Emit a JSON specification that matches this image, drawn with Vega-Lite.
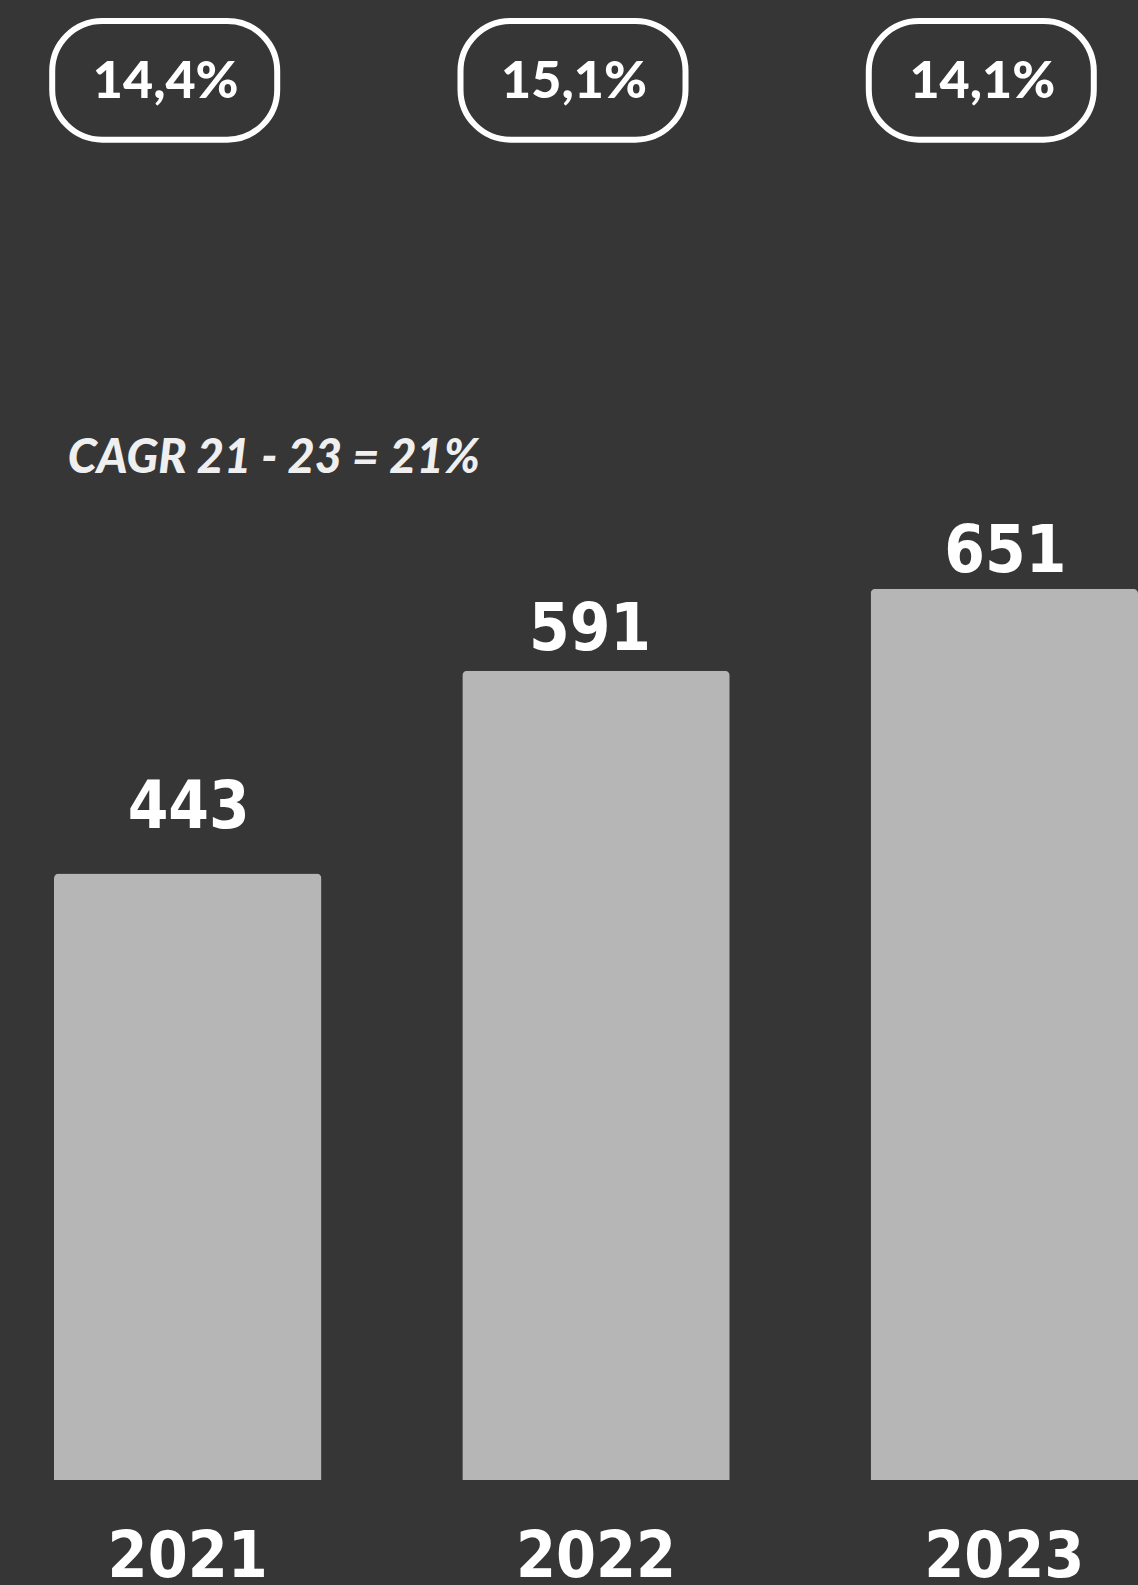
{
  "$schema": "https://vega.github.io/schema/vega-lite/v6.json",
  "width": 1084,
  "height": 1480,
  "autosize": {"type": "none"},
  "padding": {"left": 54, "top": 0, "right": 0, "bottom": 105},
  "background": "#363636",
  "config": {"view": {"stroke": null}},
  "data": {
    "values": [
      {"year": "2021", "value": 443, "margin": "14,4%"},
      {"year": "2022", "value": 591, "margin": "15,1%"},
      {"year": "2023", "value": 651, "margin": "14,1%"}
    ]
  },
  "encoding": {
    "x": {
      "field": "year",
      "type": "ordinal",
      "scale": {"paddingInner": 0.345, "paddingOuter": 0},
      "axis": {
        "title": null,
        "labelAngle": 0,
        "domain": false,
        "ticks": false,
        "grid": false,
        "labelFont": "DejaVu Sans Condensed, DejaVu Sans",
        "labelFontWeight": "bold",
        "labelFontSize": 64,
        "labelColor": "#ffffff",
        "labelBaseline": "alphabetic",
        "labelPadding": 96
      }
    }
  },
  "layer": [
    {
      "mark": {"type": "bar", "color": "#b6b6b6", "cornerRadiusTopLeft": 5, "cornerRadiusTopRight": 5},
      "encoding": {
        "y": {"field": "value", "type": "quantitative", "scale": {"domain": [0, 1081], "nice": false}, "axis": null}
      }
    },
    {
      "mark": {
        "type": "text",
        "font": "DejaVu Sans Condensed, DejaVu Sans",
        "fontWeight": "bold",
        "fontSize": 65,
        "color": "#ffffff",
        "baseline": "alphabetic",
        "align": "center",
        "dy": {"expr": "datum.year === '2021' ? -45 : (datum.year === '2022' ? -21 : -17)"},
        "dx": {"expr": "datum.year === '2022' ? -6 : 1"}
      },
      "encoding": {
        "y": {"field": "value", "type": "quantitative"},
        "text": {"field": "value", "type": "quantitative"}
      }
    },
    {
      "mark": {"type": "bar", "width": 225, "cornerRadius": 50, "fillOpacity": 0, "fill": "#363636", "stroke": "#ffffff", "strokeWidth": 6, "xOffset": -23},
      "encoding": {
        "y": {"datum": 1065.7, "type": "quantitative"},
        "y2": {"datum": 979}
      }
    },
    {
      "mark": {"type": "text", "font": "Lato", "fontWeight": 900, "fontSize": 52, "color": "#ffffff", "baseline": "middle", "align": "center", "xOffset": -22},
      "encoding": {
        "y": {"datum": 1021, "type": "quantitative"},
        "text": {"field": "margin", "type": "nominal"}
      }
    },
    {
      "data": {"values": [{"year": "2021", "label": "CAGR 21 - 23 = 21%"}]},
      "mark": {"type": "text", "font": "Lato", "fontStyle": "italic", "fontWeight": 900, "fontSize": 47, "color": "#efefef", "baseline": "alphabetic", "align": "left", "xOffset": -120},
      "encoding": {
        "x": {"field": "year", "type": "ordinal"},
        "y": {"datum": 735.5, "type": "quantitative"},
        "text": {"field": "label", "type": "nominal"}
      }
    }
  ]
}
